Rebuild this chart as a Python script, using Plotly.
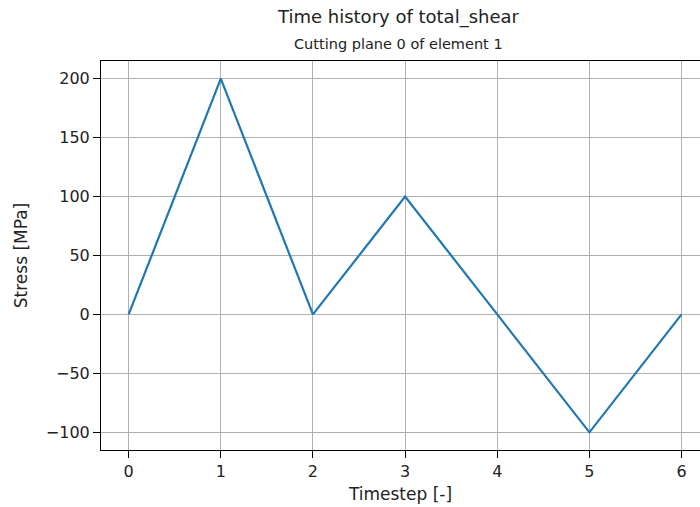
import plotly.graph_objects as go

# Time history of total shear stress at the cutting plane
timesteps = [0, 1, 2, 3, 4, 5, 6]
stress = [0, 200, 0, 100, 0, -100, 0]
x_ticks = [0, 1, 2, 3, 4, 5, 6]
y_ticks = [-100, -50, 0, 50, 100, 150, 200]

FONT = "DejaVu Sans"
TEXT = "#222222"

fig = go.Figure()
fig.add_trace(go.Scatter(
    x=timesteps, y=stress, mode="lines",
    line=dict(color="#1f77b4", width=2.2),
    showlegend=False,
))

axis_common = dict(
    showgrid=True, gridcolor="#b0b0b0", gridwidth=1,
    showline=True, linecolor="black", linewidth=1,
    ticks="outside", ticklen=7, tickcolor="black", tickwidth=1,
    tickfont=dict(family=FONT, size=16, color=TEXT),
    zeroline=False,
)

W, H = 700, 507
L, R, T, B = 101, 0, 61, 57

fig.update_layout(
    width=W, height=H,
    margin=dict(l=L, r=R, t=T, b=B),
    paper_bgcolor="white", plot_bgcolor="white",
    font=dict(family=FONT, color=TEXT),
    xaxis=dict(
        range=[-0.3, 6.2], tickvals=x_ticks, mirror=True,
        title=dict(text="Timestep [-]", font=dict(family=FONT, size=17), standoff=7),
        **axis_common,
    ),
    yaxis=dict(
        range=[-115, 215], tickvals=y_ticks,
        title=dict(text="Stress [MPa]", font=dict(family=FONT, size=17), standoff=13),
        **axis_common,
    ),
)

# Title and subtitle, positioned in pixels converted to paper coordinates
plot_w = W - L - R
plot_h = H - T - B
titles = [("Time history of total_shear", 18, 17), ("Cutting plane 0 of element 1", 14.5, 44)]
for text, size, ypix in titles:
    fig.add_annotation(
        text=text, showarrow=False, xref="paper", yref="paper",
        x=(398 - L) / plot_w, y=(H - B - ypix) / plot_h,
        xanchor="center", yanchor="middle",
        font=dict(family=FONT, size=size, color=TEXT),
    )

fig.write_html("out.html")
